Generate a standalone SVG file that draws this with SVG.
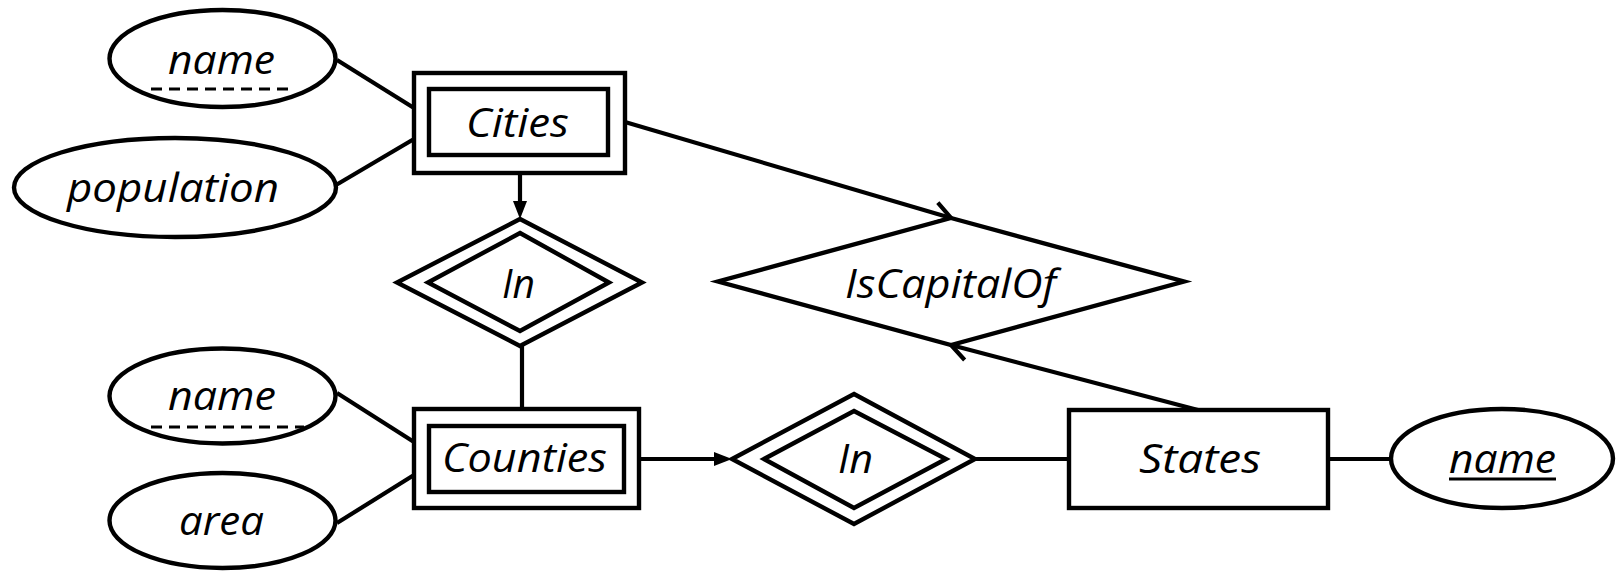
<svg xmlns="http://www.w3.org/2000/svg" width="1618" height="573" viewBox="0 0 1618 573">
<style>
.s{fill:#fff;stroke:#000;stroke-width:4.4;stroke-linejoin:miter}
.c{stroke:#000;stroke-width:4.2;fill:none}
.t{font-family:"Open Sans","Liberation Sans",sans-serif;font-style:italic;font-size:40px;fill:#000;text-anchor:middle}
.d{stroke:#000;stroke-width:2.8;stroke-dasharray:11 7}
.u{stroke:#000;stroke-width:2.8}
</style>
<defs>
<marker id="fa" markerUnits="userSpaceOnUse" viewBox="0 0 18 14" refX="10" refY="7" markerWidth="18" markerHeight="14" orient="auto">
<path d="M0,0 L18,7 L0,14 z" fill="#000"/>
</marker>
<marker id="oa" markerUnits="userSpaceOnUse" viewBox="-3 -13 24 26" refX="17" refY="0" markerWidth="24" markerHeight="26" orient="auto" overflow="visible">
<path d="M0,-11 L17,0 L0,11" fill="none" stroke="#000" stroke-width="4.2"/>
</marker>
</defs>
<g id="connectors">
<line class="c" x1="337" y1="60" x2="414" y2="108"/>
<line class="c" x1="336" y1="185" x2="414" y2="139"/>
<line class="c" x1="520" y1="173" x2="520" y2="211" marker-end="url(#fa)"/>
<line class="c" x1="522" y1="346" x2="522" y2="409"/>
<line class="c" x1="337" y1="393" x2="414" y2="442"/>
<line class="c" x1="337" y1="523" x2="414" y2="475"/>
<line class="c" x1="639" y1="459" x2="724" y2="459" marker-end="url(#fa)"/>
<line class="c" x1="975" y1="459" x2="1069" y2="459"/>
<line class="c" x1="1328" y1="459" x2="1391" y2="459"/>
<line class="c" x1="625" y1="122" x2="951" y2="218" marker-end="url(#oa)"/>
<line class="c" x1="1198" y1="410" x2="951" y2="345" marker-end="url(#oa)"/>
</g>
<g id="cities-name">
<ellipse class="s" cx="222.5" cy="58.5" rx="113" ry="48.5"/>
<text class="t" x="221.5" y="74" textLength="107" lengthAdjust="spacingAndGlyphs">name</text>
<line class="d" x1="151" y1="89" x2="293" y2="89"/>
</g>
<g id="cities-population">
<ellipse class="s" cx="175" cy="187.5" rx="161" ry="49.5"/>
<text class="t" x="173" y="202" textLength="212" lengthAdjust="spacingAndGlyphs">population</text>
</g>
<g id="cities">
<rect class="s" x="414" y="73" width="211" height="100"/>
<rect class="s" x="429" y="89" width="179" height="66"/>
<text class="t" x="517.5" y="137" textLength="103" lengthAdjust="spacingAndGlyphs">Cities</text>
</g>
<g id="in1">
<polygon class="s" points="520,219 642,282.5 520,346 397,282.5"/>
<polygon class="s" points="520,233 609,282.5 520,331 428,282.5"/>
<text class="t" x="518.5" y="298" textLength="33" lengthAdjust="spacingAndGlyphs">In</text>
</g>
<g id="iscapitalof">
<polygon class="s" points="951,218 1184,281.5 951,345 718,281.5"/>
<text class="t" x="950.5" y="298" textLength="211" lengthAdjust="spacingAndGlyphs">IsCapitalOf</text>
</g>
<g id="counties-name">
<ellipse class="s" cx="222.5" cy="396" rx="113" ry="47.5"/>
<text class="t" x="222" y="410" textLength="108" lengthAdjust="spacingAndGlyphs">name</text>
<line class="d" x1="151" y1="427" x2="304" y2="427"/>
</g>
<g id="counties-area">
<ellipse class="s" cx="222.5" cy="520.5" rx="113" ry="47.5"/>
<text class="t" x="221.5" y="535" textLength="85" lengthAdjust="spacingAndGlyphs">area</text>
</g>
<g id="counties">
<rect class="s" x="414" y="409" width="225" height="99"/>
<rect class="s" x="429" y="426" width="195" height="66"/>
<text class="t" x="524.5" y="472" textLength="165" lengthAdjust="spacingAndGlyphs">Counties</text>
</g>
<g id="in2">
<polygon class="s" points="854,394 975,459 854,524 732,459"/>
<polygon class="s" points="854,411 946,459 854,508 764,459"/>
<text class="t" x="855.5" y="473" textLength="35" lengthAdjust="spacingAndGlyphs">In</text>
</g>
<g id="states">
<rect class="s" x="1069" y="410" width="259" height="98"/>
<text class="t" x="1200" y="473" textLength="122" lengthAdjust="spacingAndGlyphs">States</text>
</g>
<g id="states-name">
<ellipse class="s" cx="1502" cy="458.5" rx="111" ry="49.5"/>
<text class="t" x="1502.5" y="473" textLength="107" lengthAdjust="spacingAndGlyphs">name</text>
<line class="u" x1="1449" y1="479" x2="1556" y2="479"/>
</g>
</svg>
